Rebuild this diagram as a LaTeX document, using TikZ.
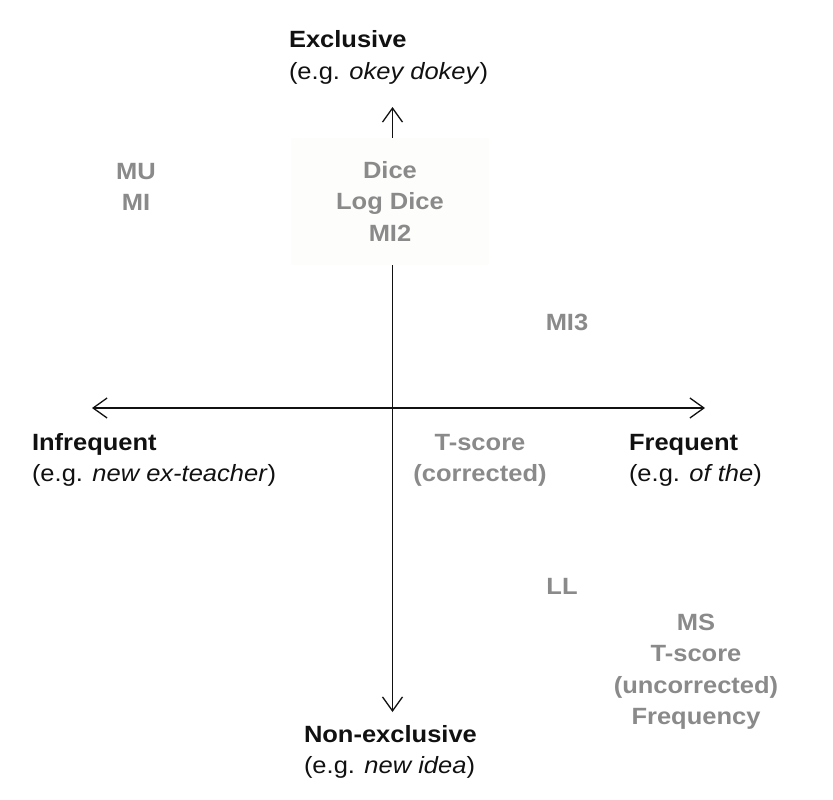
\documentclass[tikz,border=0pt]{standalone}
\usepackage{fontspec}
\setmainfont[FakeStretch=1.085]{Liberation Sans}
\usetikzlibrary{arrows.meta}
\definecolor{lblgray}{HTML}{8A8A8A}
\definecolor{ink}{HTML}{111111}
\definecolor{boxfill}{HTML}{FDFDFB}
\begin{document}
\begin{tikzpicture}[x=1pt,y=-1pt,
  every node/.style={inner sep=0pt, outer sep=0pt, font=\fontsize{23.5}{31.5}\selectfont},
  axisline/.style={line width=1.3pt, draw=ink, {Straight Barb[length=14pt,width=20pt]}-{Straight Barb[length=14pt,width=20pt]}},
  pole/.style={text=ink, align=left, anchor=north west},
  measure/.style={text=lblgray, font=\fontsize{23.5}{31.5}\selectfont\bfseries, align=center}
]
\useasboundingbox[fill=white] (0,0) rectangle (833,800);
% axes
\coordinate (top) at (392.5,107);
\coordinate (bot) at (392.5,712);
\coordinate (left) at (92,408);
\coordinate (right) at (705,408);
\draw[axisline] (left) -- (right);
\draw[axisline] (bot) -- (top);
% pole labels
\node[pole] (excl) at (289,30.5) {\textbf{Exclusive}\\(e.g. \textit{okey dokey})};
\node[pole] (infreq) at (32,433) {\textbf{Infrequent}\\(e.g. \textit{new ex-teacher})};
\node[pole] (freq) at (629,434) {\textbf{Frequent}\\(e.g. \textit{of the})};
\node[pole] (nonexcl) at (304,725) {\textbf{Non-exclusive}\\(e.g. \textit{new idea})};
% measures
\node[measure, fill=boxfill, minimum width=198pt, minimum height=127pt] (dice) at (390,201) {Dice\\Log Dice\\MI2};
\node[measure, anchor=north] (mumi) at (136,163) {MU\\MI};
\node[measure, anchor=base] (mithree) at (567,330) {MI3};
\node[measure, anchor=north] (tcorr) at (480,434) {T-score\\(corrected)};
\node[measure, anchor=base] (ll) at (562,594) {LL};
\node[measure, anchor=north] (ms) at (696,614) {MS\\T-score\\(uncorrected)\\Frequency};
\end{tikzpicture}
\end{document}
